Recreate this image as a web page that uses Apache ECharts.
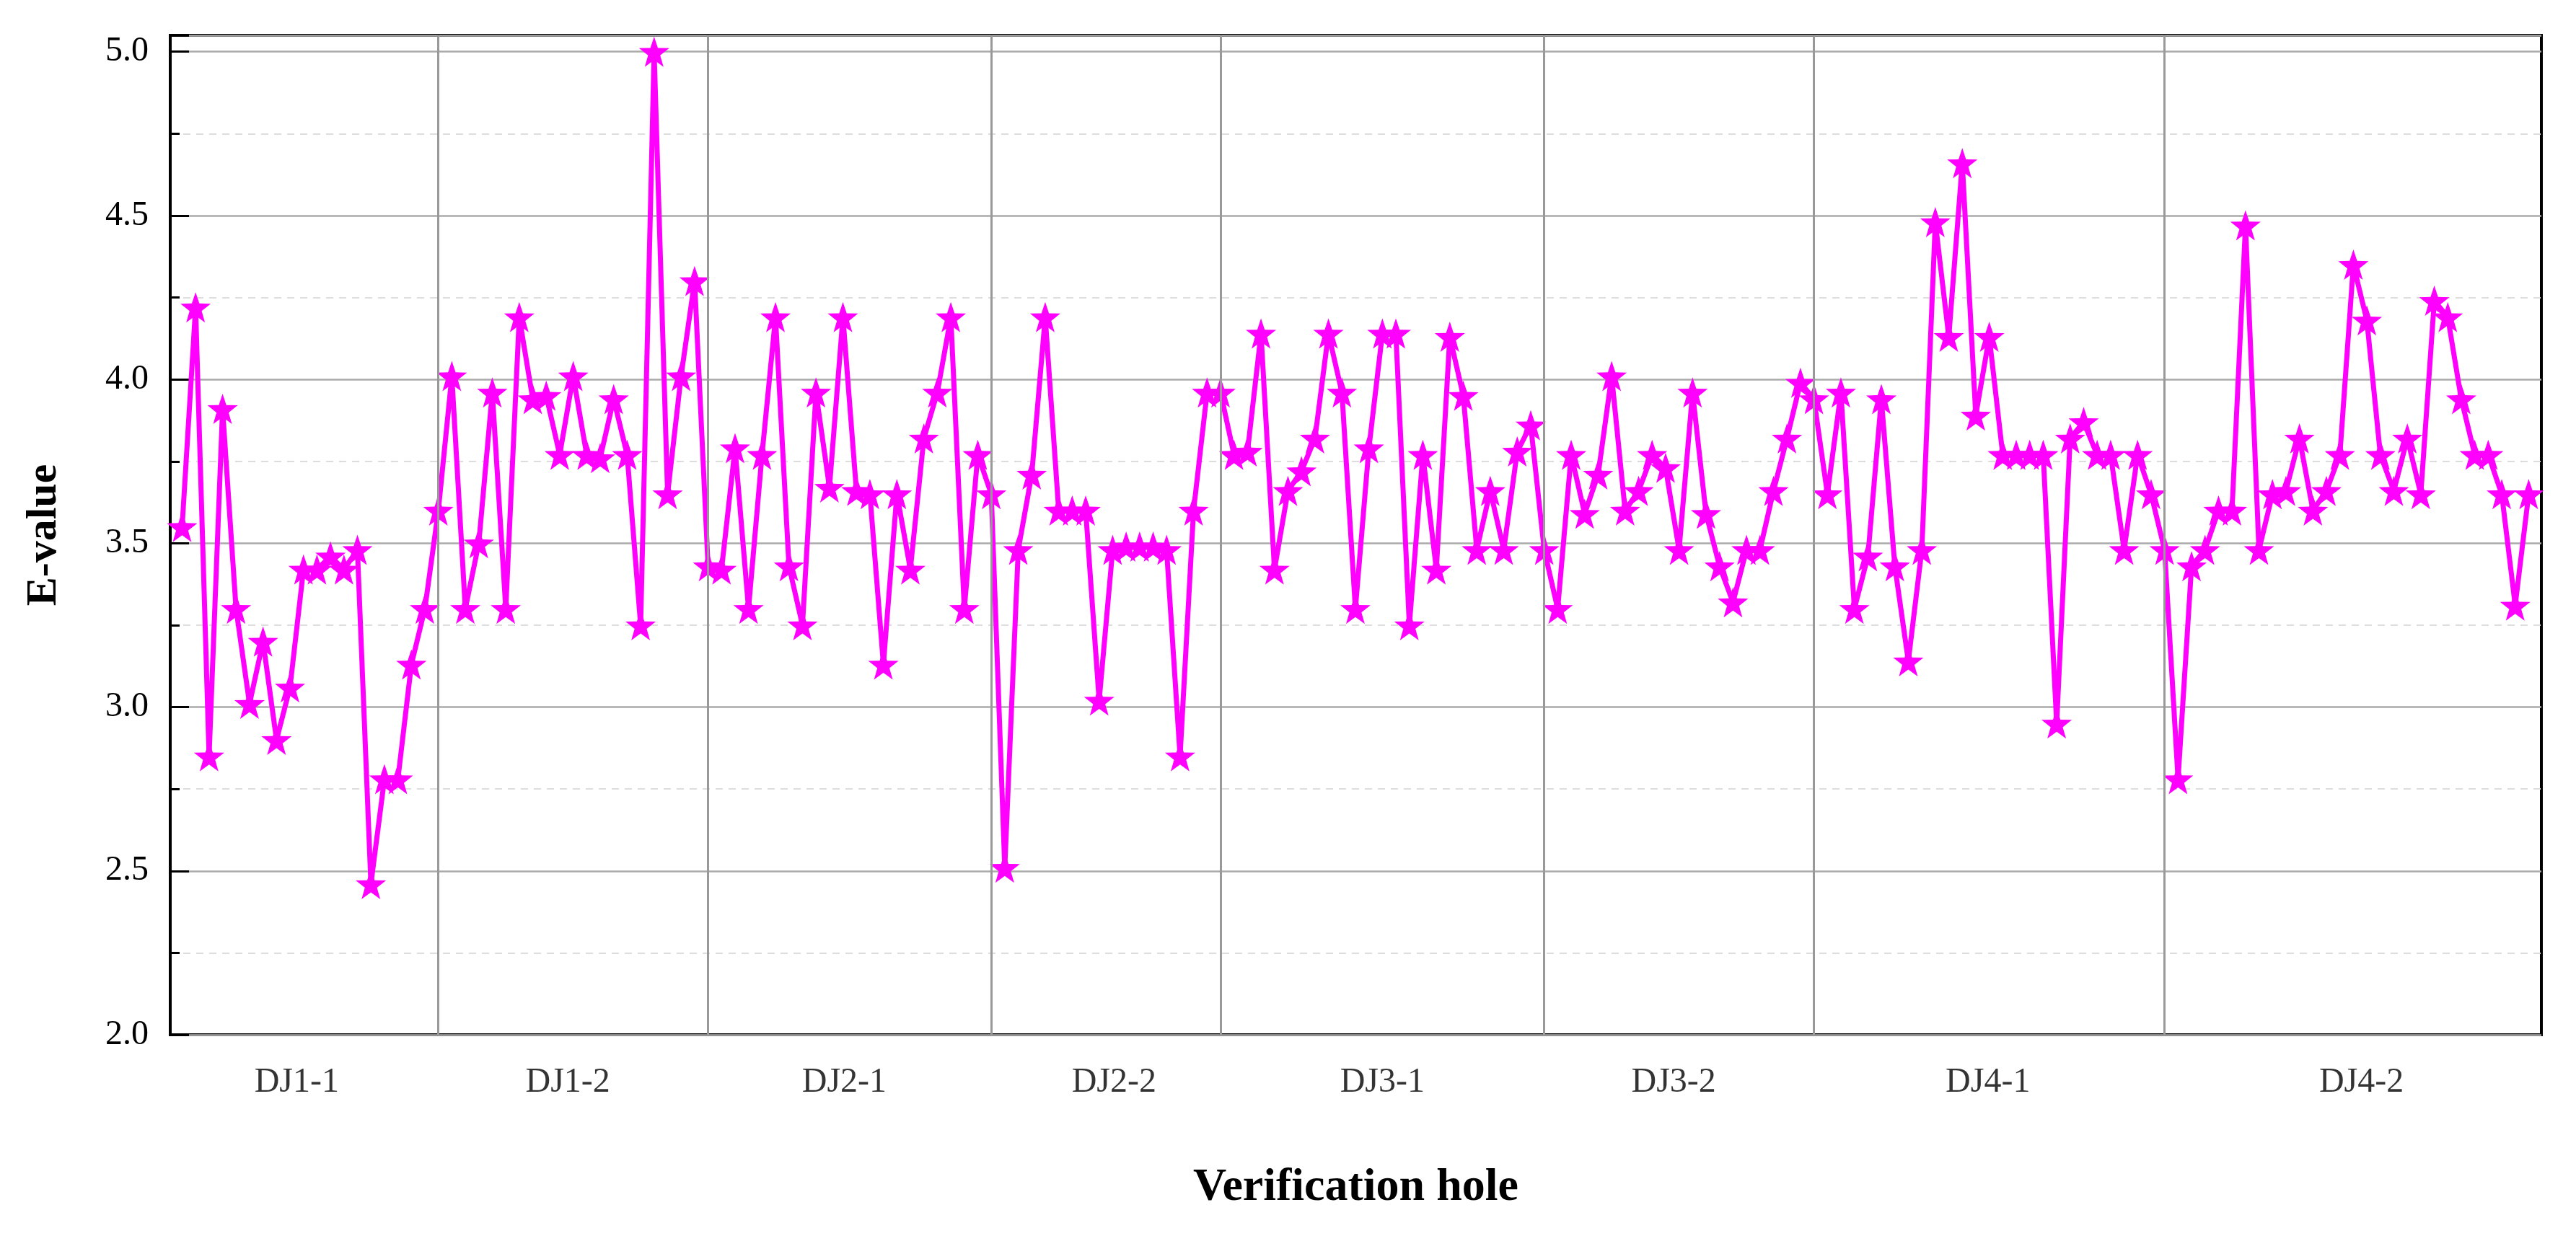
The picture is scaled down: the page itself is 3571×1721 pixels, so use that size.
<!DOCTYPE html>
<html><head><meta charset="utf-8">
<script src="https://cdn.jsdelivr.net/npm/echarts@6/dist/echarts.min.js"></script>
<style>html,body{margin:0;padding:0;background:#fff}#c{width:3571px;height:1721px}</style>
</head><body><div id="c"></div>
<script>
const eValues = [
3.55,4.22,2.85,3.91,3.30,3.01,3.20,2.90,3.06,3.42,
3.42,3.46,3.42,3.48,2.46,2.78,2.78,3.13,3.30,3.60,
4.01,3.30,3.50,3.96,3.30,4.19,3.94,3.95,3.77,4.01,
3.77,3.76,3.94,3.77,3.25,5.00,3.65,4.01,4.30,3.43,
3.42,3.79,3.30,3.77,4.19,3.43,3.25,3.96,3.67,4.19,
3.66,3.65,3.13,3.65,3.42,3.82,3.96,4.19,3.30,3.77,
3.65,2.51,3.48,3.71,4.19,3.60,3.60,3.60,3.02,3.48,
3.49,3.49,3.49,3.48,2.85,3.60,3.96,3.96,3.77,3.78,
4.14,3.42,3.66,3.72,3.82,4.14,3.96,3.30,3.79,4.14,
4.14,3.25,3.77,3.42,4.13,3.95,3.48,3.66,3.48,3.78,
3.86,3.48,3.30,3.77,3.59,3.71,4.01,3.60,3.66,3.77,
3.73,3.48,3.96,3.59,3.43,3.32,3.48,3.48,3.66,3.82,
3.99,3.94,3.65,3.96,3.30,3.46,3.94,3.43,3.14,3.48,
4.48,4.13,4.66,3.89,4.13,3.77,3.77,3.77,3.77,2.95,
3.82,3.87,3.77,3.77,3.48,3.77,3.65,3.48,2.78,3.43,
3.48,3.60,3.60,4.47,3.48,3.65,3.66,3.82,3.60,3.66,
3.77,4.35,4.18,3.77,3.66,3.82,3.65,4.24,4.19,3.94,
3.77,3.77,3.65,3.31,3.65];
const groupNames = ['DJ1-1','DJ1-2','DJ2-1','DJ2-2','DJ3-1','DJ3-2','DJ4-1','DJ4-2'];
const groupLabelPos = [9.5,29.6,50.1,70.1,90,111.6,134.9,162.6];
const groupBoundaries = [20,40,61,78,102,122,148];
const yTicks = [2.0,2.5,3.0,3.5,4.0,4.5,5.0];

const font = 'Liberation Serif';
const chart = echarts.init(document.getElementById('c'));
chart.setOption({
  animation:false,
  grid:{left:236,right:48,top:49,bottom:286,show:true,borderColor:'#000',borderWidth:4,backgroundColor:'transparent'},
  xAxis:{type:'value',min:0.12,max:175.94,axisLine:{show:false},axisTick:{show:false},axisLabel:{show:false},splitLine:{show:false},
    name:'Verification hole',nameLocation:'middle',nameGap:180,
    nameTextStyle:{fontFamily:font,fontWeight:'bold',fontSize:64,color:'#000'}},
  yAxis:{type:'value',min:2.0,max:5.05,interval:0.5,
    axisLine:{show:true,lineStyle:{color:'#000',width:4}},
    axisTick:{inside:true,length:26,lineStyle:{color:'#000',width:3}},
    minorTick:{show:true,splitNumber:2,length:13,lineStyle:{color:'#000',width:3}},
    splitLine:{show:true,lineStyle:{color:'#aaa',width:2.5}},
    minorSplitLine:{show:true,lineStyle:{color:'#ddd',width:2,type:[10,8]}},
    axisLabel:{fontFamily:font,fontSize:48,color:'#000',margin:30,
      formatter:v=>yTicks.includes(+v.toFixed(1))?v.toFixed(1):'',showMaxLabel:false},
    name:'E-value',nameLocation:'middle',nameGap:145,
    nameTextStyle:{fontFamily:font,fontWeight:'bold',fontSize:60,color:'#000'}},
  series:[
    {type:'line',data:eValues.map((v,i)=>[i+1,v]),symbol:'path://M0,-10L2.35,-3.24L9.51,-3.09L3.8,1.24L5.88,8.09L0,4L-5.88,8.09L-3.8,1.24L-9.51,-3.09L-2.35,-3.24Z',
     symbolSize:42,lineStyle:{color:'#ff00ff',width:7},itemStyle:{color:'#ff00ff'},
     markLine:{silent:true,symbol:'none',label:{show:false},lineStyle:{color:'#999',width:3,type:'solid'},
       data:groupBoundaries.map(b=>({xAxis:b}))},z:3},
    {type:'scatter',data:groupLabelPos.map((p,i)=>[p,2.0,groupNames[i]]),symbolSize:0,silent:true,
     label:{show:true,position:'bottom',distance:42,formatter:p=>p.data[2],fontFamily:font,fontSize:48,color:'#000'},z:1}
  ]
});
</script></body></html>
